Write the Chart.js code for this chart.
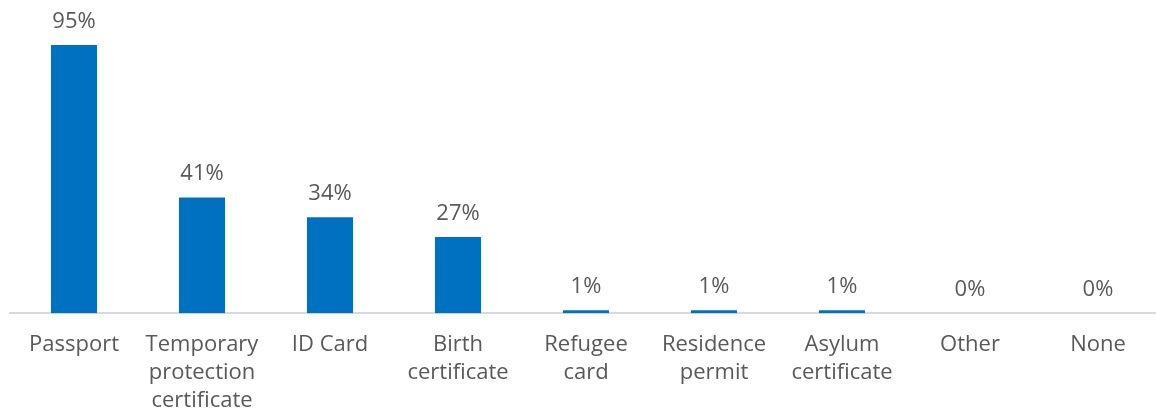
<!DOCTYPE html>
<html>
<head>
<meta charset="utf-8">
<script src="https://cdn.jsdelivr.net/npm/chart.js@4.4.1/dist/chart.umd.min.js"></script>
<style>
    html, body { margin: 0; padding: 0; background: #fff; overflow: hidden; }
    #wrap { width: 1164px; height: 437px; }
</style>
</head>
<body>
<div id="wrap"><canvas id="docChart"></canvas></div>
<script>
const docLabels = [
    'Passport',
    ['Temporary', 'protection', 'certificate'],
    'ID Card',
    ['Birth', 'certificate'],
    ['Refugee', 'card'],
    ['Residence', 'permit'],
    ['Asylum', 'certificate'],
    'Other',
    'None'
];
const docShares = [95, 41, 34, 27, 1, 1, 1, 0, 0];

// prints the share above each bar
const valueLabels = {
    id: 'valueLabels',
    afterDatasetsDraw(chart) {
        const ctx = chart.ctx;
        const meta = chart.getDatasetMeta(0);
        ctx.save();
        ctx.font = '22px "Open Sans"';
        ctx.fillStyle = '#595959';
        ctx.textAlign = 'center';
        ctx.textBaseline = 'alphabetic';
        meta.data.forEach(function (bar, i) {
            ctx.fillText(docShares[i] + '%', bar.x, bar.y - 17);
        });
        ctx.restore();
    }
};

const data = {
    labels: docLabels,
    datasets: [{
            data: docShares,
            backgroundColor: '#0070C0',
            borderWidth: 0,
            categoryPercentage: 1,
            barPercentage: 0.36
        }]
};

const config = {
    type: 'bar',
    data: data,
    plugins: [valueLabels],
    options: {
        responsive: true,
        maintainAspectRatio: false,
        animation: false,
        layout: {
            padding: {left: 10, right: 2, top: 31, bottom: 4}
        },
        plugins: {
            legend: {display: false},
            tooltip: {enabled: false}
        },
        scales: {
            y: {
                display: false,
                min: 0,
                max: 100
            },
            x: {
                grid: {display: false, drawTicks: false},
                border: {color: '#d9d9d9', width: 2},
                ticks: {
                    color: '#595959',
                    padding: 18,
                    maxRotation: 0,
                    autoSkip: false,
                    font: {family: '"Open Sans"', size: 22, lineHeight: 1.27}
                }
            }
        }
    }
};

new Chart(document.getElementById('docChart').getContext('2d'), config);
</script>
</body>
</html>
